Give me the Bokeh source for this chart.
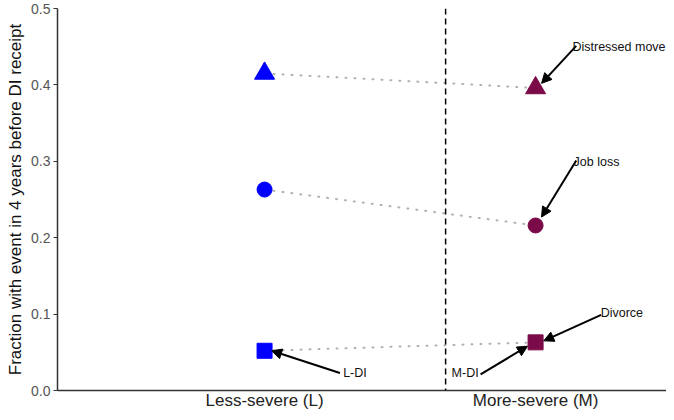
from bokeh.plotting import figure
from bokeh.models import Span, Arrow, NormalHead, FixedTicker, Range1d, Label
from bokeh.embed import file_html
from bokeh.resources import INLINE

# data
groups = ["Less-severe (L)", "More-severe (M)"]
group_x = [1, 2]
events = ["Distressed move", "Job loss", "Divorce"]
markers = ["triangle", "circle", "square"]
L_vals = [0.415, 0.263, 0.052]
M_vals = [0.396, 0.216, 0.063]
colors = ["#0000FF", "#7B0A48"]
y_ticks = [0.0, 0.1, 0.2, 0.3, 0.4, 0.5]
cut_x = 1.668

# annotation labels: text, text anchor, arrow tail, arrow head (data units)
ann_text = ["Distressed move", "Job loss", "Divorce", "L-DI", "M-DI"]
ann_tx = [2.136, 2.140, 2.240, 1.290, 1.690]
ann_ty = [0.449, 0.299, 0.101, 0.023, 0.023]
ann_ax = [2.150, 2.150, 2.242, 1.278, 1.797]
ann_ay = [0.451, 0.301, 0.099, 0.023, 0.021]
ann_hx = [2.022, 2.022, 2.030, 1.026, 1.970]
ann_hy = [0.402, 0.227, 0.065, 0.052, 0.058]

p = figure(width=666, height=412, output_backend="svg", toolbar_location=None,
           x_range=Range1d(0.236, 2.483), y_range=Range1d(0, 0.5),
           min_border_left=57, min_border_top=8, min_border_right=0, min_border_bottom=16)
p.outline_line_color = None
p.xgrid.grid_line_color = None
p.ygrid.grid_line_color = None
p.background_fill_color = "white"

# dotted connectors
for lv, mv in zip(L_vals, M_vals):
    p.line([group_x[0], group_x[1]], [lv, mv], line_color="#b0b0b0", line_width=2,
           line_dash="1 8", line_cap="round")

p.add_layout(Span(location=cut_x, dimension="height", line_color="black",
                  line_width=1.5, line_dash="6 4"))

sizes = {"triangle": 20, "circle": 15, "square": 15}
for ev, mk, lv, mv in zip(events, markers, L_vals, M_vals):
    p.scatter([group_x[0]], [lv], marker=mk, size=sizes[mk], fill_color=colors[0],
              line_color=colors[0])
    p.scatter([group_x[1]], [mv], marker=mk, size=sizes[mk], fill_color=colors[1],
              line_color=colors[1])

for t, tx, ty, ax, ay, hx, hy in zip(ann_text, ann_tx, ann_ty, ann_ax, ann_ay, ann_hx, ann_hy):
    p.add_layout(Arrow(end=NormalHead(size=10, fill_color="black", line_color="black"),
                       x_start=ax, y_start=ay, x_end=hx, y_end=hy,
                       line_color="black", line_width=2))
    p.add_layout(Label(x=tx, y=ty, text=t, text_font="Liberation Sans", text_font_size="12.5px",
                       text_color="#111111", text_baseline="middle", text_align="left"))

p.xaxis.ticker = FixedTicker(ticks=group_x)
p.xaxis.major_label_overrides = {x: g for x, g in zip(group_x, groups)}
p.xaxis.major_tick_line_color = None
p.xaxis.major_tick_in = 0
p.xaxis.major_tick_out = 0
p.xaxis.minor_tick_line_color = None
p.xaxis.axis_line_color = "#333333"
p.xaxis.axis_line_width = 1.5
p.xaxis.major_label_text_font = "Liberation Sans"
p.xaxis.major_label_text_font_size = "17px"
p.xaxis.major_label_text_color = "#222222"
p.xaxis.major_label_standoff = 0

p.yaxis.ticker = FixedTicker(ticks=y_ticks)
p.yaxis.major_label_overrides = {v: f"{v:.1f}" for v in y_ticks}
p.yaxis.minor_tick_line_color = None
p.yaxis.major_tick_in = 0
p.yaxis.major_tick_out = 4
p.yaxis.major_tick_line_color = "#333333"
p.yaxis.axis_line_color = "#333333"
p.yaxis.axis_line_width = 1.5
p.yaxis.major_label_text_font = "Liberation Sans"
p.yaxis.major_label_text_font_size = "14px"
p.yaxis.major_label_text_color = "#555555"
p.yaxis.major_label_standoff = 3
p.yaxis.axis_label = "Fraction with event in 4 years before DI receipt"
p.yaxis.axis_label_text_font = "Liberation Sans"
p.yaxis.axis_label_text_font_size = "17px"
p.yaxis.axis_label_text_font_style = "normal"
p.yaxis.axis_label_text_color = "#111111"
p.yaxis.axis_label_standoff = 3

open("out.html", "w").write(file_html(p, INLINE))
